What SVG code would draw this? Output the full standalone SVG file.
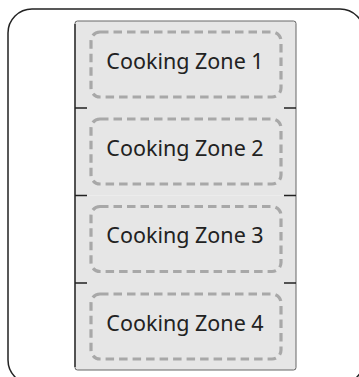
<svg xmlns="http://www.w3.org/2000/svg" width="359" height="377" viewBox="0 0 359 377">
<style>
.frame{fill:#fff;stroke:#222;stroke-width:1.5}
.tile{fill:#e6e6e6;stroke:none}
.zone{fill:none;stroke:#a8a8a8;stroke-width:3.2;stroke-dasharray:8.5 5}
.lbl{font-family:"Noto Sans","Open Sans",sans-serif;font-size:21.5px;fill:#222;text-anchor:middle}
.edge{stroke:#222;stroke-width:1.3;fill:none}
.outline{fill:none;stroke:#666;stroke-width:1}
</style>
<rect width="359" height="377" fill="#fff"/>
<rect class="frame" x="8" y="9" width="356" height="375" rx="24"/>
<g id="zone1">
<rect class="tile" x="75" y="21" width="221" height="87"/>
<rect class="zone" x="91" y="32" width="190" height="65" rx="9"/>
<text class="lbl" x="185" y="68.5">Cooking Zone 1</text>
</g>
<g id="zone2">
<rect class="tile" x="75" y="108" width="221" height="87.5"/>
<rect class="zone" x="91" y="119" width="190" height="65" rx="9"/>
<text class="lbl" x="185" y="155.5">Cooking Zone 2</text>
</g>
<g id="zone3">
<rect class="tile" x="75" y="195.5" width="221" height="87.5"/>
<rect class="zone" x="91" y="206.5" width="190" height="65" rx="9"/>
<text class="lbl" x="185" y="243">Cooking Zone 3</text>
</g>
<g id="zone4">
<rect class="tile" x="75" y="283" width="221" height="87"/>
<rect class="zone" x="91" y="294" width="190" height="65" rx="9"/>
<text class="lbl" x="185" y="330.5">Cooking Zone 4</text>
</g>
<g id="connectors">
<rect class="outline" x="75" y="21" width="221" height="349" rx="2.5"/>
<path class="edge" d="M75,24 V367"/>
<path class="edge" d="M75,108 H87 M75,195.5 H87 M75,283 H87"/>
<path class="edge" d="M284,108 H296 M284,195.5 H296 M284,283 H296"/>
</g>
</svg>
